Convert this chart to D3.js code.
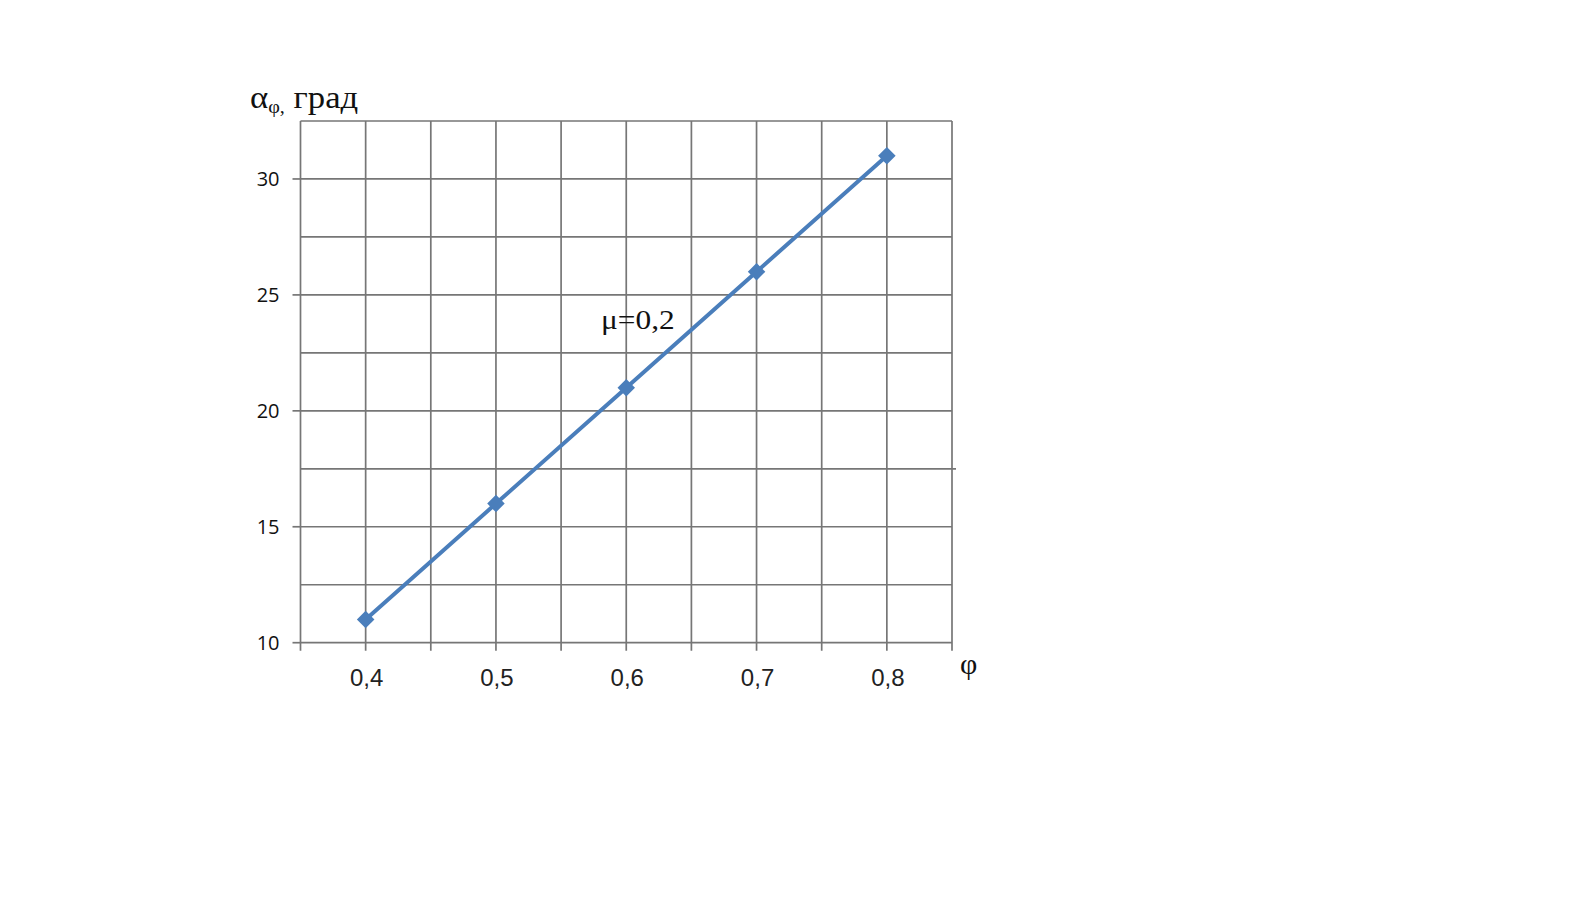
<!DOCTYPE html>
<html>
<head>
<meta charset="utf-8">
<script src="https://cdn.jsdelivr.net/npm/d3@7"></script>
<style>
  html, body { margin: 0; padding: 0; background: #ffffff; }
  svg { display: block; }
</style>
</head>
<body>
<svg id="chart" width="1592" height="906"></svg>
<script>
// ---- data ----
const phiValues = [0.4, 0.5, 0.6, 0.7, 0.8];
const alphaValues = [11, 16, 21, 26, 31];
const xTickLabels = ["0,4", "0,5", "0,6", "0,7", "0,8"];
const yTickValues = [10, 15, 20, 25, 30];
const xGridValues = [0.35, 0.4, 0.45, 0.5, 0.55, 0.6, 0.65, 0.7, 0.75, 0.8, 0.85];
const yGridValues = [10, 12.5, 15, 17.5, 20, 22.5, 25, 27.5, 30, 32.5];
const seriesLabel = "μ=0,2";

const svg = d3.select("#chart");

const x = d3.scaleLinear().domain([0.35, 0.85]).range([300.5, 952]);
const y = d3.scaleLinear().domain([10, 32.5]).range([642.7, 121]);

const gridColor = "#767676";

// horizontal gridlines
svg.append("g").selectAll("line").data(yGridValues).join("line")
  .attr("x1", x(0.35)).attr("x2", d => d === 17.5 ? x(0.85) + 4 : x(0.85))
  .attr("y1", d => y(d)).attr("y2", d => y(d))
  .attr("stroke", gridColor).attr("stroke-width", 1.7);

// vertical gridlines
svg.append("g").selectAll("line").data(xGridValues).join("line")
  .attr("x1", d => x(d)).attr("x2", d => x(d))
  .attr("y1", y(32.5)).attr("y2", y(10) + 8)
  .attr("stroke", gridColor).attr("stroke-width", 1.7);

// y ticks (left extension)
svg.append("g").selectAll("line").data(yTickValues).join("line")
  .attr("x1", x(0.35) - 8).attr("x2", x(0.35))
  .attr("y1", d => y(d)).attr("y2", d => y(d))
  .attr("stroke", gridColor).attr("stroke-width", 1.7);

// y tick labels
svg.append("g").selectAll("text").data(yTickValues).join("text")
  .attr("x", 279.5).attr("y", d => y(d) + 7)
  .attr("text-anchor", "end")
  .attr("font-family", "'Open Sans', 'Noto Sans', sans-serif")
  .attr("font-size", 20).attr("fill", "#111")
  .text(d => d);

// x tick labels
svg.append("g").selectAll("text").data(phiValues).join("text")
  .attr("x", d => x(d) + 1).attr("y", 686)
  .attr("text-anchor", "middle")
  .attr("font-family", "'Liberation Sans', Arial, sans-serif")
  .attr("font-size", 24).attr("fill", "#222")
  .text((d, i) => xTickLabels[i]);

// axis title x: φ
svg.append("text")
  .attr("x", 960).attr("y", 674)
  .attr("font-family", "'Liberation Serif', 'Times New Roman', serif")
  .attr("font-size", 30).attr("fill", "#111")
  .text("φ");

// axis title y: α_φ, град
const t = svg.append("text")
  .attr("transform", "translate(250,107.5) scale(1.12,1)")
  .attr("font-family", "'Liberation Serif', 'Times New Roman', serif")
  .attr("font-size", 31).attr("fill", "#111");
t.append("tspan").text("α");
t.append("tspan").attr("font-size", 18).attr("dy", 5).text("φ,");
t.append("tspan").attr("dy", -5).text(" град");

// line
const line = d3.line().x((d, i) => x(phiValues[i])).y(d => y(d));
svg.append("path")
  .datum(alphaValues)
  .attr("d", line)
  .attr("fill", "none")
  .attr("stroke", "#4a7ebb")
  .attr("stroke-width", 4);

// markers (square diamonds)
svg.append("g").selectAll("rect").data(alphaValues).join("rect")
  .attr("transform", (d, i) => `translate(${x(phiValues[i])},${y(d)}) rotate(45)`)
  .attr("x", -6.2).attr("y", -6.2).attr("width", 12.4).attr("height", 12.4)
  .attr("fill", "#4a7ebb");

// series annotation
svg.append("text")
  .attr("transform", "translate(601,329) scale(1.12,1)")
  .attr("font-family", "'Liberation Serif', 'Times New Roman', serif")
  .attr("font-size", 28).attr("fill", "#111")
  .text(seriesLabel);
</script>
</body>
</html>
